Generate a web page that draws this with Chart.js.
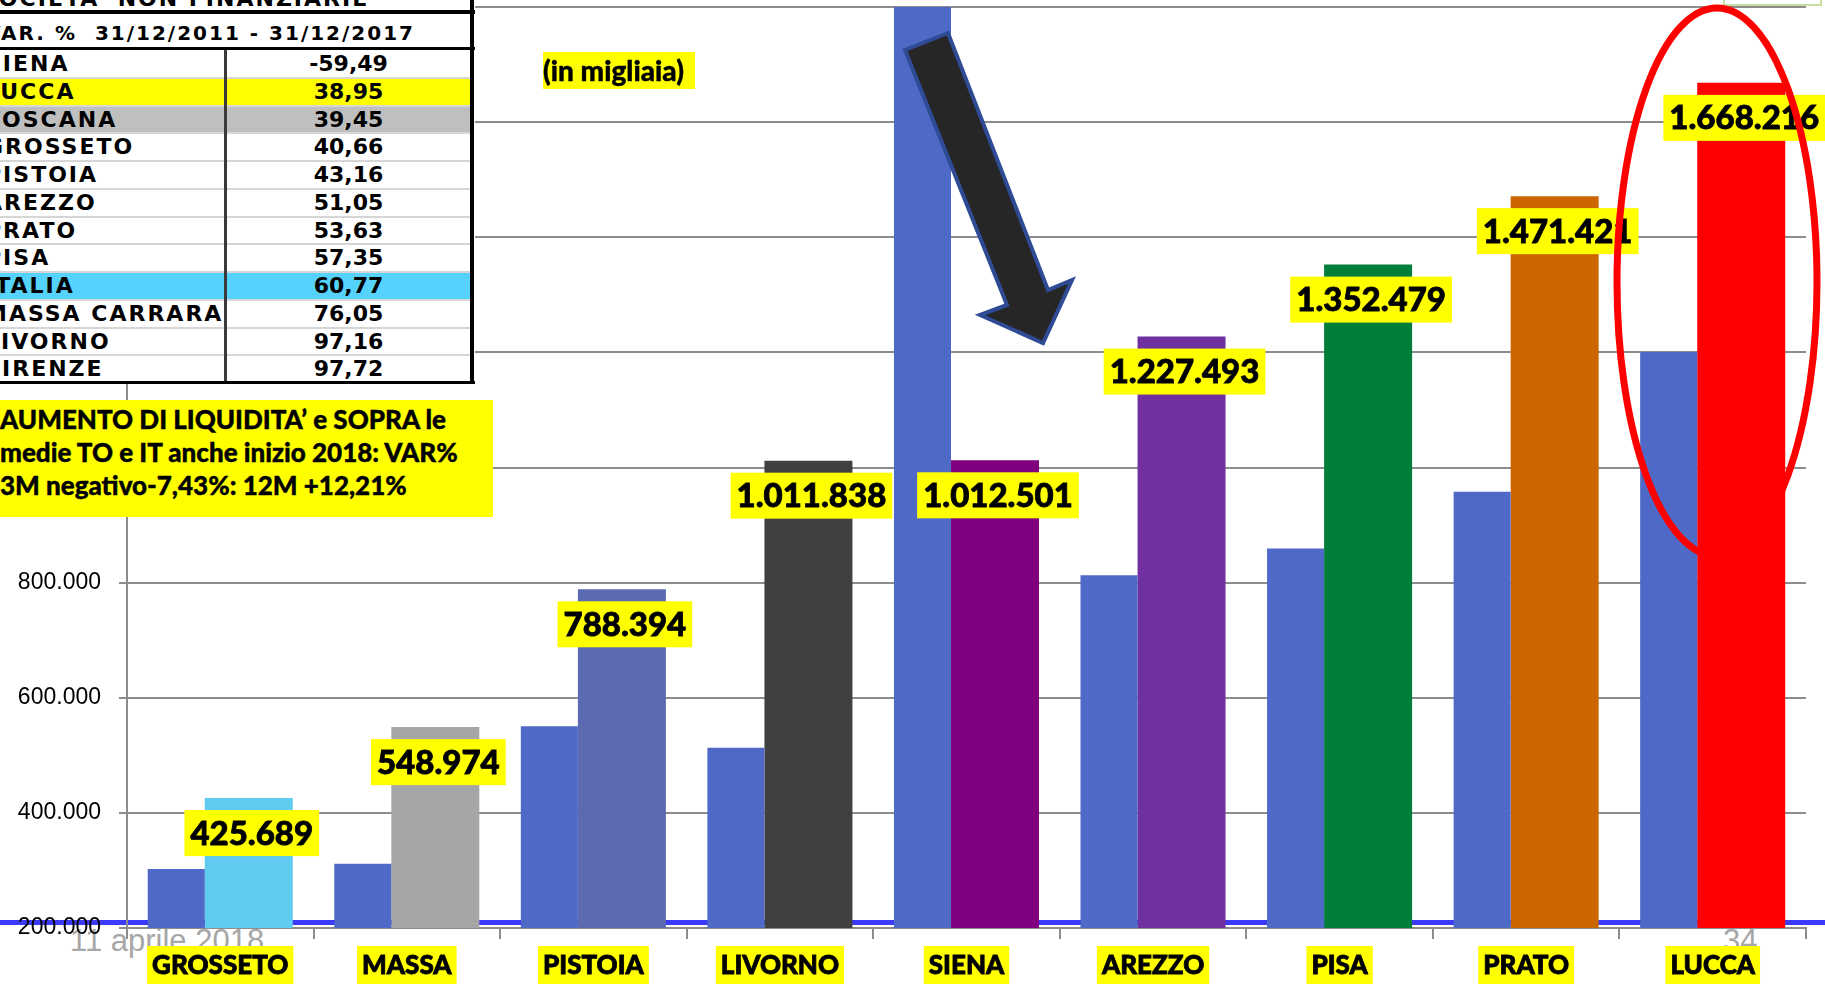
<!DOCTYPE html>
<html>
<head>
<meta charset="utf-8">
<script src="https://cdn.jsdelivr.net/npm/chart.js@4.4.1/dist/chart.umd.min.js"></script>
<style>
  html, body { margin: 0; padding: 0; background: #fff; overflow: hidden; }
  #wrap { position: relative; width: 1825px; height: 984px; }
  #myChart { position: absolute; left: 0; top: 0; z-index: 1; }
  .footer { position: absolute; z-index: 0; font-family: 'Liberation Sans', Arial, sans-serif; font-size: 31px; line-height: 31px; color: #a6a6a6; }
  #tabella { position: absolute; left: 0; top: 0; width: 475px; height: 384px; background: #fff; overflow: hidden; z-index: 3;
             font-family: 'DejaVu Sans', sans-serif; font-weight: bold; color: #000; }
  #tabella div { position: absolute; white-space: nowrap; }
  .riga { left: 0; width: 470px; height: 27.75px; line-height: 27.75px; font-size: 22px; }
  .riga .nome { left: -15px; letter-spacing: 2px; }
  .riga .val { left: 227px; width: 243px; text-align: center; }
  .sep { left: 0; width: 470px; height: 2px; background: #d6d6d6; }
  #nota { position: absolute; left: 0; top: 400px; width: 493px; height: 117px; background: #ffff00; z-index: 3;
          font-family: Lato, sans-serif; font-weight: 900; font-size: 26px; line-height: 33px; color: #000;
          padding-top: 3px; box-sizing: border-box; white-space: nowrap; -webkit-text-stroke: 0.4px #000; }
  #migliaia { position: absolute; left: 543px; top: 52px; width: 152px; height: 37px; background: #ffff00; z-index: 3;
              font-family: Lato, sans-serif; font-weight: 900; font-size: 28px; line-height: 37px; color: #000;
              -webkit-text-stroke: 0.4px #000; }
  #verde { position: absolute; left: 1723px; top: -10px; width: 95px; height: 12px; border: 2px solid #c6e0a4; z-index: 3; }
  #forme { position: absolute; left: 0; top: 0; z-index: 5; pointer-events: none; }
</style>
</head>
<body>
<div id="wrap">
  <div class="footer" style="left:70px; top:925px;">11 aprile 2018</div>
  <div class="footer" style="left:1723px; top:925px;">34</div>
  <canvas id="myChart" width="1825" height="984"></canvas>

  <div id="tabella"></div>
  <div id="nota">AUMENTO DI LIQUIDITA’ e SOPRA le<br>medie TO e IT anche inizio 2018: VAR%<br>3M negativo-7,43%: 12M +12,21%</div>
  <div id="migliaia">(in migliaia)</div>
  <div id="verde"></div>

  <svg id="forme" width="1825" height="984">
    <polygon points="905,50 948,33 1048,290 1072,280 1043,343 980,315 1007,305"
             fill="#262626" stroke="#2f4b95" stroke-width="4" stroke-linejoin="miter"/>
    <ellipse cx="1717" cy="282" rx="100" ry="274" fill="none" stroke="#ff0000" stroke-width="7"/>
  </svg>
</div>

<script>
// province (asse x)
const categories = ['GROSSETO', 'MASSA', 'PISTOIA', 'LIVORNO', 'SIENA', 'AREZZO', 'PISA', 'PRATO', 'LUCCA'];
// depositi 31/12/2011 (barre blu)
const valori2011 = [302600, 311800, 550700, 513200, 2499400, 812600, 859500, 957800, 1200600];
// depositi 31/12/2017 (barre colorate)
const valori2017 = [425689, 548974, 788394, 1011838, 1012501, 1227493, 1352479, 1471421, 1668216];
const coloriProvince = ['#5fcbf1', '#a6a6a6', '#5b6ab1', '#404040', '#800080', '#7030a0', '#007e3a', '#cc6600', '#ff0000'];
const yTickValues = [200000, 400000, 600000, 800000, 1000000, 1200000, 1400000, 1600000, 1800000];

// tabella var. %
const tabNomi = ['SIENA', 'LUCCA', 'TOSCANA', 'GROSSETO', 'PISTOIA', 'AREZZO', 'PRATO', 'PISA', 'ITALIA', 'MASSA CARRARA', 'LIVORNO', 'FIRENZE'];
const tabVar = ['-59,49', '38,95', '39,45', '40,66', '43,16', '51,05', '53,63', '57,35', '60,77', '76,05', '97,16', '97,72'];
const tabSfondi = {1: '#ffff00', 2: '#bfbfbf', 8: '#56d3fc'};

function fmt(v) {
    return String(v).replace(/\B(?=(\d{3})+(?!\d))/g, '.');
}

// costruzione tabella
const tab = document.getElementById('tabella');
let html = '';
html += '<div style="left:-19px; top:-12px; font-size:22px; line-height:22px; letter-spacing:2px;">SOCIETA\' NON FINANZIARIE</div>';
html += '<div style="left:0; top:10px; width:475px; height:4px; background:#000;"></div>';
html += '<div style="left:-15px; top:23px; font-size:20px; line-height:20px; letter-spacing:2px;">VAR. %&nbsp; 31/12/2011 - 31/12/2017</div>';
html += '<div style="left:0; top:47px; width:475px; height:3px; background:#000;"></div>';
tabNomi.forEach(function (n, i) {
    const top = 50 + i * 27.75;
    const bg = tabSfondi[i] || '#fff';
    html += '<div class="riga" style="top:' + top + 'px; background:' + bg + ';">' +
        '<div class="nome">' + n + '</div><div class="val">' + tabVar[i] + '</div></div>';
    if (i > 0) html += '<div class="sep" style="top:' + (top - 1) + 'px;"></div>';
});
html += '<div style="left:224px; top:50px; width:3px; height:333px; background:#3a3a3a;"></div>';
html += '<div style="left:0; top:381px; width:475px; height:3px; background:#000;"></div>';
html += '<div style="left:470px; top:0; width:4px; height:384px; background:#000;"></div>';
tab.innerHTML = html;

const grigio = '#8c8c8c';

const lineaBlu = {
    id: 'lineaBlu',
    beforeDraw(chart) {
        const c = chart.ctx;
        const b = chart.chartArea.bottom;
        c.save();
        c.fillStyle = '#3b3bf7';
        c.fillRect(0, b - 8, chart.width, 5);
        c.restore();
    }
};

const etichette = {
    id: 'etichette',
    afterDatasetsDraw(chart) {
        const c = chart.ctx;
        const meta = chart.getDatasetMeta(1);
        c.save();
        c.font = '900 33px Lato';
        c.textAlign = 'center';
        c.textBaseline = 'middle';
        c.lineWidth = 0.8;
        c.strokeStyle = '#000';
        meta.data.forEach(function (bar, i) {
            const txt = fmt(valori2017[i]);
            const w = c.measureText(txt).width + 12;
            const cx = bar.x + 3;
            const top = bar.y + 12;
            c.fillStyle = '#ffff00';
            c.fillRect(cx - w / 2, top, w, 46);
            c.fillStyle = '#000';
            c.fillText(txt, cx, top + 24);
            c.strokeText(txt, cx, top + 24);
        });
        c.restore();
    }
};

const ctx = document.getElementById('myChart');
let myChart = new Chart(ctx, {
    type: 'bar',
    data: {
        labels: categories,
        datasets: [
            {
                label: '31/12/2011',
                data: valori2011,
                backgroundColor: '#4f69c7',
                categoryPercentage: 0.944,
                barPercentage: 0.648,
                clip: 0
            },
            {
                label: '31/12/2017',
                data: valori2017,
                backgroundColor: coloriProvince,
                categoryPercentage: 0.611,
                barPercentage: 1.544,
                clip: 0
            }
        ]
    },
    options: {
        responsive: false,
        animation: false,
        layout: {padding: {top: 7, right: 19, left: 0, bottom: 0}},
        plugins: {legend: {display: false}, tooltip: {enabled: false}},
        scales: {
            x: {
                offset: true,
                grid: {offset: true, drawOnChartArea: false, tickLength: 11, color: grigio, lineWidth: 2},
                border: {color: grigio, width: 2},
                ticks: {
                    autoSkip: false, maxRotation: 0,
                    color: '#000', padding: 11,
                    font: {family: 'Lato', weight: '900', size: 26},
                    textStrokeColor: '#000', textStrokeWidth: 0.8,
                    showLabelBackdrop: true,
                    backdropColor: '#ffff00',
                    backdropPadding: {top: 4, bottom: 4, left: 5, right: 5}
                },
                afterFit: function (s) {
                    s.height = 56;
                    s.paddingLeft = 0;
                    s.paddingRight = 0;
                }
            },
            y: {
                min: 200000,
                max: 1800000,
                grid: {color: grigio, lineWidth: 2, tickLength: 8},
                border: {color: grigio, width: 2},
                ticks: {
                    color: '#000', padding: 18,
                    font: {family: 'Liberation Sans', size: 23},
                    callback: function (v) { return fmt(v); }
                },
                afterBuildTicks: function (s) {
                    s.ticks = yTickValues.map(function (v) { return {value: v}; });
                },
                afterFit: function (s) {
                    s.width = 127;
                    s.paddingTop = 0;
                    s.paddingBottom = 0;
                }
            }
        }
    },
    plugins: [lineaBlu, etichette]
});
</script>
</body>
</html>
